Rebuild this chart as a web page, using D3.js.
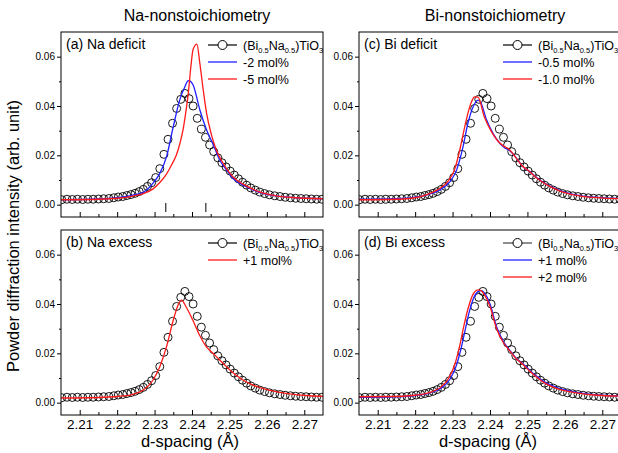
<!DOCTYPE html>
<html>
<head>
<meta charset="utf-8">
<script src="https://cdn.jsdelivr.net/npm/d3@7"></script>
<style>
  body { margin: 0; background: #fff; }
  svg { display: block; font-family: "Liberation Sans", Arial, sans-serif; }
</style>
</head>
<body>
<div id="chart"></div>
<script>
// reference (Bi0.5Na0.5)TiO3 pattern, shown as open circles in every panel
const bntD = [2.2052, 2.2066, 2.2080, 2.2094, 2.2108, 2.2122, 2.2136, 2.2150, 2.2164, 2.2178,
  2.2191, 2.2203, 2.2215, 2.2226, 2.2237, 2.2248, 2.2259, 2.2270, 2.2281, 2.2292,
  2.2303, 2.2314, 2.2325, 2.2336, 2.2348, 2.2359, 2.2370, 2.2381, 2.2392, 2.2403,
  2.2414, 2.2425, 2.2436, 2.2447, 2.2458, 2.2469, 2.2480, 2.2491, 2.2502, 2.2513,
  2.2524, 2.2535, 2.2546, 2.2557, 2.2569, 2.2581, 2.2594, 2.2607, 2.2621, 2.2635,
  2.2649, 2.2663, 2.2677, 2.2691, 2.2705, 2.2719, 2.2733, 2.2747];
const bntI = [0.0020, 0.0022, 0.0021, 0.0022, 0.0021, 0.0022, 0.0022, 0.0023, 0.0024, 0.0025,
  0.0028, 0.0031, 0.0033, 0.0037, 0.0041, 0.0046, 0.0053, 0.0062, 0.0074, 0.0089,
  0.0110, 0.0146, 0.0204, 0.0265, 0.0330, 0.0390, 0.0427, 0.0451, 0.0430, 0.0400,
  0.0350, 0.0306, 0.0273, 0.0242, 0.0215, 0.0190, 0.0170, 0.0153, 0.0136, 0.0120,
  0.0105, 0.0091, 0.0079, 0.0068, 0.0059, 0.0051, 0.0045, 0.0040, 0.0036, 0.0033,
  0.0030, 0.0028, 0.0026, 0.0025, 0.0024, 0.0023, 0.0022, 0.0022];

// (a) Na deficit
const naMinus2 = [[2.2050,0.0020],[2.2150,0.0023],[2.2200,0.0028],[2.2240,0.0038],[2.2270,0.0050],
  [2.2296,0.0087],[2.2314,0.0127],[2.2332,0.0195],[2.2350,0.0316],[2.2367,0.0424],[2.2381,0.0478],
  [2.2390,0.0503],[2.2396,0.0500],[2.2403,0.0485],[2.2421,0.0384],[2.2439,0.0303],[2.2457,0.0242],
  [2.2474,0.0181],[2.2492,0.0141],[2.2509,0.0107],[2.2545,0.0073],[2.2580,0.0050],[2.2625,0.0036],
  [2.2670,0.0029],[2.2750,0.0024]];
const naMinus5 = [[2.2050,0.0020],[2.2150,0.0022],[2.2200,0.0026],[2.2240,0.0034],[2.2270,0.0045],
  [2.2295,0.0063],[2.2314,0.0090],[2.2330,0.0120],[2.2345,0.0160],[2.2358,0.0200],[2.2368,0.0250],
  [2.2376,0.0303],[2.2383,0.0370],[2.2390,0.0450],[2.2397,0.0560],[2.2403,0.0630],[2.2413,0.0651],
  [2.2421,0.0573],[2.2430,0.0465],[2.2439,0.0370],[2.2452,0.0283],[2.2465,0.0222],[2.2483,0.0168],
  [2.2509,0.0113],[2.2545,0.0076],[2.2580,0.0052],[2.2625,0.0036],[2.2670,0.0029],[2.2750,0.0024]];
const reflectionD = [2.2330, 2.2437];

// (b) Na excess
const naPlus1 = [[2.2050,0.0019],[2.2150,0.0021],[2.2200,0.0025],[2.2240,0.0033],[2.2270,0.0051],
  [2.2296,0.0092],[2.2314,0.0146],[2.2332,0.0227],[2.2350,0.0335],[2.2363,0.0396],[2.2372,0.0416],
  [2.2384,0.0389],[2.2402,0.0335],[2.2420,0.0274],[2.2438,0.0227],[2.2456,0.0200],[2.2474,0.0173],
  [2.2492,0.0146],[2.2509,0.0122],[2.2536,0.0092],[2.2562,0.0072],[2.2598,0.0054],[2.2651,0.0038],
  [2.2714,0.0028],[2.2750,0.0026]];

// (c) Bi deficit
const biMinus05 = [[2.2050,0.0022],[2.2150,0.0024],[2.2200,0.0030],[2.2239,0.0043],[2.2266,0.0060],
  [2.2293,0.0093],[2.2311,0.0141],[2.2328,0.0235],[2.2341,0.0330],[2.2355,0.0397],[2.2368,0.0424],
  [2.2375,0.0415],[2.2391,0.0343],[2.2408,0.0289],[2.2426,0.0249],[2.2440,0.0230],[2.2453,0.0219],
  [2.2471,0.0188],[2.2488,0.0154],[2.2506,0.0134],[2.2533,0.0100],[2.2559,0.0076],[2.2595,0.0053],
  [2.2648,0.0035],[2.2750,0.0025]];
const biMinus10 = [[2.2050,0.0020],[2.2150,0.0022],[2.2200,0.0028],[2.2235,0.0043],[2.2262,0.0062],
  [2.2288,0.0095],[2.2306,0.0145],[2.2322,0.0240],[2.2336,0.0340],[2.2350,0.0415],[2.2359,0.0437],
  [2.2368,0.0436],[2.2385,0.0355],[2.2403,0.0298],[2.2421,0.0258],[2.2436,0.0238],[2.2451,0.0225],
  [2.2468,0.0193],[2.2486,0.0158],[2.2504,0.0136],[2.2531,0.0101],[2.2557,0.0076],[2.2593,0.0052],
  [2.2646,0.0034],[2.2750,0.0024]];

// (d) Bi excess
const biPlus1 = [[2.2050,0.0022],[2.2150,0.0024],[2.2200,0.0029],[2.2240,0.0040],[2.2270,0.0060],
  [2.2293,0.0095],[2.2310,0.0150],[2.2322,0.0215],[2.2333,0.0290],[2.2345,0.0370],[2.2358,0.0430],
  [2.2370,0.0452],[2.2377,0.0454],[2.2385,0.0445],[2.2400,0.0400],[2.2417,0.0310],[2.2435,0.0250],
  [2.2453,0.0212],[2.2470,0.0180],[2.2488,0.0158],[2.2506,0.0132],[2.2524,0.0108],[2.2550,0.0080],
  [2.2577,0.0062],[2.2630,0.0042],[2.2700,0.0030],[2.2750,0.0027]];
const biPlus2 = [[2.2050,0.0024],[2.2150,0.0025],[2.2200,0.0030],[2.2240,0.0042],[2.2268,0.0062],
  [2.2290,0.0100],[2.2307,0.0160],[2.2319,0.0230],[2.2330,0.0310],[2.2342,0.0385],[2.2355,0.0440],
  [2.2368,0.0457],[2.2375,0.0455],[2.2385,0.0438],[2.2400,0.0390],[2.2417,0.0302],[2.2435,0.0245],
  [2.2453,0.0210],[2.2470,0.0178],[2.2488,0.0155],[2.2506,0.0128],[2.2524,0.0104],[2.2550,0.0076],
  [2.2577,0.0058],[2.2630,0.0040],[2.2700,0.0029],[2.2750,0.0026]];

const xTicks = [2.21, 2.22, 2.23, 2.24, 2.25, 2.26, 2.27];
const yTicks = [0.00, 0.02, 0.04, 0.06];
const columnTitles = ["Na-nonstoichiometry", "Bi-nonstoichiometry"];

const BLUE = "#1f1fff", RED = "#ff1a1a";

const panels = [
  {col: 0, row: 0, label: "(a) Na deficit", series: [
    {name: "-2 mol%", data: naMinus2, color: BLUE},
    {name: "-5 mol%", data: naMinus5, color: RED}], marks: reflectionD},
  {col: 0, row: 1, label: "(b) Na excess", series: [
    {name: "+1 mol%", data: naPlus1, color: RED}]},
  {col: 1, row: 0, label: "(c) Bi deficit", series: [
    {name: "-0.5 mol%", data: biMinus05, color: BLUE},
    {name: "-1.0 mol%", data: biMinus10, color: RED}]},
  {col: 1, row: 1, label: "(d) Bi excess", series: [
    {name: "+1 mol%", data: biPlus1, color: BLUE},
    {name: "+2 mol%", data: biPlus2, color: RED}]}
];

const W = 618, H = 453;
const colX = [61, 359], pw = 262;
const rowY = [32, 230], ph = 185;

const svg = d3.select("#chart").append("svg")
  .attr("width", W).attr("height", H);

const bnt = bntD.map((d, i) => [d, bntI[i]]);

panels.forEach((p, k) => {
  const x0 = colX[p.col], y0 = rowY[p.row];
  const x = d3.scaleLinear().domain([2.205, 2.275]).range([0, pw]);
  const y = d3.scaleLinear().domain([-0.005, 0.07]).range([ph, 0]);
  const g = svg.append("g").attr("transform", "translate(" + x0 + "," + y0 + ")");

  g.append("clipPath").attr("id", "clip" + k)
    .append("rect").attr("width", pw).attr("height", ph);
  const plot = g.append("g").attr("clip-path", "url(#clip" + k + ")");

  // reference circles
  plot.selectAll("circle.bnt").data(bnt).enter().append("circle")
    .attr("class", "bnt")
    .attr("cx", d => x(d[0])).attr("cy", d => y(d[1])).attr("r", 4)
    .attr("fill", "none").attr("stroke", "#000").attr("stroke-width", 0.9);

  const line = d3.line().x(d => x(d[0])).y(d => y(d[1])).curve(d3.curveMonotoneX);
  p.series.forEach(s => {
    plot.append("path").datum(s.data).attr("d", line)
      .attr("fill", "none").attr("stroke", s.color).attr("stroke-width", 1.3);
  });

  if (p.marks) {
    g.selectAll("line.mark").data(p.marks).enter().append("line")
      .attr("x1", d => x(d)).attr("x2", d => x(d))
      .attr("y1", y(0.0007)).attr("y2", y(-0.003))
      .attr("stroke", "#000").attr("stroke-width", 1);
  }

  // x axis: ticks inside
  const xAxis = g.append("g").attr("transform", "translate(0," + ph + ")")
    .call(d3.axisBottom(x).tickValues(xTicks).tickSize(-5).tickPadding(4)
      .tickFormat(p.row === 1 ? d3.format(".2f") : ""));
  xAxis.select(".domain").remove();
  xAxis.selectAll("text").attr("font-size", 13.5).attr("fill", "#000")
    .attr("font-family", "Liberation Sans, Arial, sans-serif");
  g.append("g").attr("transform", "translate(0," + ph + ")")
    .call(d3.axisBottom(x).tickValues([2.215, 2.225, 2.235, 2.245, 2.255, 2.265]).tickSize(-3).tickFormat(""))
    .select(".domain").remove();

  // y axis: ticks outside
  const yAxis = g.append("g")
    .call(d3.axisLeft(y).tickValues(yTicks).tickSize(4).tickPadding(2).tickFormat(d3.format(".2f")));
  yAxis.select(".domain").remove();
  yAxis.selectAll("text").attr("font-size", 10).attr("fill", "#000")
    .attr("font-family", "Liberation Sans, Arial, sans-serif");
  g.append("g")
    .call(d3.axisLeft(y).tickValues([0.01, 0.03, 0.05]).tickSize(2).tickFormat(""))
    .select(".domain").remove();

  g.selectAll(".tick line").attr("stroke", "#000");

  g.append("rect").attr("width", pw).attr("height", ph)
    .attr("fill", "none").attr("stroke", "#000").attr("stroke-width", 1);

  g.append("text").attr("x", 5).attr("y", 17).attr("font-size", 14).text(p.label);

  // legend
  const lx = p.col === 0 ? 147 : 144;
  const rows = [{ref: true}].concat(p.series);
  rows.forEach((r, i) => {
    const ly = 13 + i * 17;
    const lg = g.append("g").attr("transform", "translate(" + lx + "," + ly + ")");
    if (r.ref) {
      lg.append("line").attr("x1", 0).attr("x2", 29).attr("stroke", p.col === 1 && p.row === 1 ? "#444" : "#000").attr("stroke-width", 1.2);
      lg.append("circle").attr("cx", 14.5).attr("r", 4.5).attr("fill", "#fff").attr("stroke", "#000");
      const t = lg.append("text").attr("x", 35).attr("y", 4.5).attr("font-size", 12.5);
      t.append("tspan").text("(Bi");
      t.append("tspan").attr("font-size", 7.5).attr("dy", 3.5).text("0.5");
      t.append("tspan").attr("dy", -3.5).text("Na");
      t.append("tspan").attr("font-size", 7.5).attr("dy", 3.5).text("0.5");
      t.append("tspan").attr("dy", -3.5).text(")TiO");
      t.append("tspan").attr("font-size", 7.5).attr("dy", 3.5).text("3");
    } else {
      lg.append("line").attr("x1", 0).attr("x2", 29).attr("stroke", r.color).attr("stroke-width", 1.3);
      lg.append("text").attr("x", 35).attr("y", 4.5).attr("font-size", 12.5).text(r.name);
    }
  });

  if (p.row === 1) {
    svg.append("text").attr("x", x0 + pw / 2 - 2).attr("y", 447)
      .attr("text-anchor", "middle").attr("font-size", 16.5).text("d-spacing (Å)");
  }
});

columnTitles.forEach((t, i) => {
  svg.append("text").attr("x", colX[i] + pw / 2 + 5).attr("y", 21)
    .attr("text-anchor", "middle").attr("font-size", 16).text(t);
});

svg.append("text").attr("transform", "translate(19,236) rotate(-90)")
  .attr("text-anchor", "middle").attr("font-size", 16.5)
  .text("Powder diffraction intensity (arb. unit)");
</script>
</body>
</html>
